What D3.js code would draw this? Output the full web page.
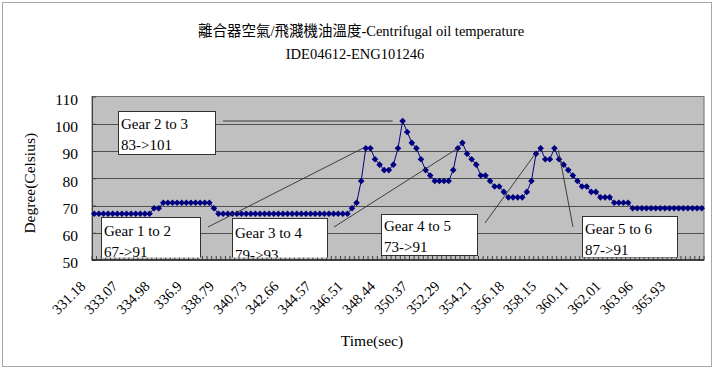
<!DOCTYPE html>
<html>
<head>
<meta charset="utf-8">
<script src="https://cdn.jsdelivr.net/npm/d3@7"></script>
<style>
  html, body { margin: 0; padding: 0; background: #fff; }
  svg { display: block; }
  text { font-family: "Liberation Serif", "Times New Roman", "Noto Sans CJK TC", serif; fill: #000; }
</style>
</head>
<body>
<svg id="chart" width="720" height="370"></svg>
<script>
// ---------- data ----------
const titleLines = ["離合器空氣/飛濺機油溫度-Centrifugal oil temperature", "IDE04612-ENG101246"];
const xAxisTitle = "Time(sec)";
const yAxisTitle = "Degree(Celsius)";
const yTicks = [50, 60, 70, 80, 90, 100, 110];
// time labels shown every 7th sample
const tickLabels = ["331.18","333.07","334.98","336.9","338.79","340.73","342.66","344.57","346.51",
  "348.44","350.37","352.29","354.21","356.18","358.15","360.11","362.01","363.96","365.93"];
const tickEvery = 7;
// temperature samples (°C)
const tempValues = [
  67,67,67,67,67,67,67,67,67,67,67,67,67,
  69,69,
  71,71,71,71,71,71,71,71,71,71,71,
  69,
  67,67,67,67,67,67,67,67,67,67,67,67,67,67,67,67,67,67,67,67,67,67,67,67,67,67,67,67,67,
  69,71,79,91,91,87,85,83,83,85,
  91,101,97,93,91,87,83,81,
  79,79,79,79,
  83,91,93,89,87,85,81,81,79,77,
  77,75,
  73,73,73,73,
  75,79,89,91,87,87,91,87,85,83,
  81,79,77,77,75,75,
  73,73,73,
  71,71,71,71,
  69,69,69,69,69,69,69,69,69,69,69,69,69,69,69,69
];
const annotationText = [
  ["Gear 1 to 2", "67->91"],
  ["Gear 2 to 3", "83->101"],
  ["Gear 3 to 4", "79->93"],
  ["Gear 4 to 5", "73->91"],
  ["Gear 5 to 6", "87->91"]
];
const annotationTarget = [59, 67, 79, 96, 100]; // sample index each callout points at

// ---------- layout ----------
const svg = d3.select("#chart");
const plot = { left: 92, right: 704, top: 96.5, bottom: 260 };
const N = tempValues.length;

const x = d3.scaleBand().domain(d3.range(N)).range([plot.left, plot.right]).padding(0);
const cx = i => x(i) + x.bandwidth() / 2;
const y = d3.scaleLinear().domain([50, 110]).range([plot.bottom, plot.top]);

// outer chart border
svg.append("rect").attr("x", 2.5).attr("y", 2.5).attr("width", 709).attr("height", 364)
  .attr("fill", "#fff").attr("stroke", "#a8a8a8").attr("stroke-width", 1);

// plot background
svg.append("rect").attr("x", plot.left).attr("y", plot.top)
  .attr("width", plot.right - plot.left).attr("height", plot.bottom - plot.top)
  .attr("fill", "#c0c0c0").attr("stroke", "#707070").attr("stroke-width", 1);

// gridlines
svg.append("g").selectAll("line").data(yTicks.slice(1, -1)).join("line")
  .attr("x1", plot.left).attr("x2", plot.right)
  .attr("y1", d => Math.round(y(d)) + 0.5).attr("y2", d => Math.round(y(d)) + 0.5)
  .attr("stroke", "#505050").attr("stroke-width", 1);

// title
svg.append("text").attr("x", 361).attr("y", 36).attr("text-anchor", "middle")
  .style("font-size", "14.5px").text(titleLines[0]);
svg.append("text").attr("x", 355).attr("y", 59).attr("text-anchor", "middle")
  .style("font-size", "14.5px").text(titleLines[1]);

// y axis
const yAxis = d3.axisLeft(y).tickValues(yTicks).tickSizeInner(-4).tickSizeOuter(0).tickPadding(14);
const gy = svg.append("g").attr("transform", `translate(${plot.left},0)`).call(yAxis);
gy.select(".domain").attr("stroke", "#404040");
gy.selectAll(".tick line").attr("stroke", "#404040");
gy.selectAll(".tick text").style("font-size", "15.5px").style("font-family", "Liberation Serif").attr("dy", "0.5em");

// y axis title
svg.append("text").attr("transform", `translate(35,${(plot.top + plot.bottom) / 2 + 5}) rotate(-90)`)
  .attr("text-anchor", "middle").style("font-size", "15.5px").text(yAxisTitle);

// x axis category ticks (inward)
svg.append("g").selectAll("line").data(d3.range(N + 1)).join("line")
  .attr("x1", i => (i < N ? x(i) : plot.right)).attr("x2", i => (i < N ? x(i) : plot.right))
  .attr("y1", plot.bottom).attr("y2", plot.bottom - 4)
  .attr("stroke", "#404040").attr("stroke-width", 1);

// x axis labels
const xAxis = d3.axisBottom(x).tickValues(d3.range(0, N, tickEvery))
  .tickFormat(i => tickLabels[i / tickEvery]).tickSize(0);
const gx = svg.append("g").attr("transform", `translate(0,${plot.bottom})`).call(xAxis);
gx.select(".domain").remove();
gx.selectAll(".tick text")
  .attr("x", 0).attr("y", 0).attr("dy", 0)
  .attr("transform", "translate(-8,27) rotate(-45)")
  .attr("text-anchor", "end")
  .style("font-size", "14.5px").style("font-family", "Liberation Serif");

// x axis title
svg.append("text").attr("x", 372).attr("y", 346).attr("text-anchor", "middle")
  .style("font-size", "15.5px").text(xAxisTitle);

// data line
svg.append("path").datum(tempValues)
  .attr("fill", "none").attr("stroke", "#000080").attr("stroke-width", 1)
  .attr("d", d3.line().x((d, i) => cx(i)).y(d => y(d)));

// markers (diamonds)
svg.append("g").selectAll("path").data(tempValues).join("path")
  .attr("transform", (d, i) => `translate(${cx(i)},${y(d)})`)
  .attr("d", "M0,-3.3L3.3,0L0,3.3L-3.3,0Z")
  .attr("fill", "#000080");

// annotations (clipped to plot area)
svg.append("clipPath").attr("id", "plotClip").append("rect")
  .attr("x", plot.left).attr("y", plot.top)
  .attr("width", plot.right - plot.left).attr("height", plot.bottom - plot.top - 2.5);
const ann = svg.append("g").attr("clip-path", "url(#plotClip)");

const boxLayout = [
  { bx: 101, by: 217, bw: 99, bh: 42, lx: 208, ly: 227, dx: -3, dy: 0, t1: 19, t2: 40 },
  { bx: 118, by: 111, bw: 97, bh: 43, lx: 223, ly: 121, dx: -10, dy: 0, t1: 17.5, t2: 39 },
  { bx: 232, by: 218, bw: 95, bh: 48, lx: 334, ly: 227, dx: 0, dy: 0, t1: 19.5, t2: 41.5 },
  { bx: 381, by: 214, bw: 96, bh: 41, lx: 485, ly: 223, dx: 0, dy: -1, t1: 16.5, t2: 38 },
  { bx: 582, by: 216, bw: 95, bh: 41, lx: 573, ly: 227, dx: 4, dy: 2, t1: 17.5, t2: 38.5 }
];

annotationText.forEach((lines, k) => {
  const L = boxLayout[k];
  const t = annotationTarget[k];
  ann.append("line")
    .attr("x1", L.lx).attr("y1", L.ly)
    .attr("x2", cx(t) + L.dx).attr("y2", y(tempValues[t]) + L.dy)
    .attr("stroke", "#303030").attr("stroke-width", 0.9);
});
annotationText.forEach((lines, k) => {
  const L = boxLayout[k];
  const g = ann.append("g");
  g.append("rect").attr("x", L.bx + 0.5).attr("y", L.by + 0.5).attr("width", L.bw).attr("height", L.bh)
    .attr("fill", "#fff").attr("stroke", "#303030").attr("stroke-width", 1);
  g.append("text").attr("x", L.bx + 3).attr("y", L.by + L.t1).style("font-size", "15px").text(lines[0]);
  g.append("text").attr("x", L.bx + 3).attr("y", L.by + L.t2).style("font-size", "15px").text(lines[1]);
});

// bottom axis line on top
svg.append("line").attr("x1", plot.left).attr("x2", plot.right)
  .attr("y1", plot.bottom).attr("y2", plot.bottom)
  .attr("stroke", "#202020").attr("stroke-width", 1.5);
</script>
</body>
</html>
